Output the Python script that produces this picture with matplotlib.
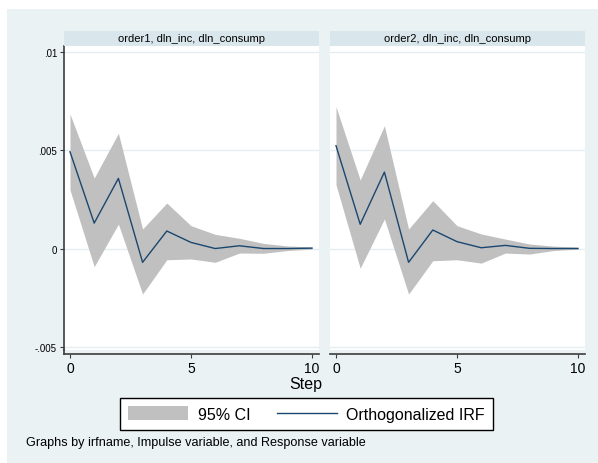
import matplotlib
matplotlib.use("Agg")
import matplotlib.pyplot as plt
from matplotlib.patches import Rectangle, Patch
from matplotlib.lines import Line2D

plt.rcParams['font.family'] = ['Liberation Sans', 'DejaVu Sans']

steps = [0, 1, 2, 3, 4, 5, 6, 7, 8, 9, 10]
panel_titles = ["order1, dln_inc, dln_consump", "order2, dln_inc, dln_consump"]

irf_order1 = [0.00491, 0.00129, 0.00356, -0.00070, 0.00089, 0.00031, 0.00000, 0.00014, 0.00000, 0.00000, 0.00002]
upper_order1 = [0.00683, 0.00358, 0.00585, 0.00099, 0.00231, 0.00116, 0.00072, 0.00052, 0.00026, 0.00013, 0.00008]
lower_order1 = [0.00298, -0.00092, 0.00124, -0.00231, -0.00057, -0.00053, -0.00070, -0.00023, -0.00024, -0.00010, -0.00003]

irf_order2 = [0.00522, 0.00123, 0.00388, -0.00070, 0.00094, 0.00035, 0.00004, 0.00016, 0.00001, 0.00000, 0.00000]
upper_order2 = [0.00720, 0.00348, 0.00623, 0.00099, 0.00243, 0.00116, 0.00074, 0.00048, 0.00023, 0.00012, 0.00008]
lower_order2 = [0.00324, -0.00100, 0.00150, -0.00231, -0.00062, -0.00057, -0.00074, -0.00023, -0.00028, -0.00010, -0.00003]

y_ticks = [-0.005, 0, 0.005, 0.01]
y_ticklabels = ["-.005", "0", ".005", ".01"]
x_ticks = [0, 5, 10]
x_ticklabels = ["0", "5", "10"]

W, H = 598, 464
BG = "#EAF2F3"
STRIP = "#D9E6EB"
GRID = "#E4EDF0"
BAND = "#C0C0C0"
NAVY = "#1A476F"
AXC = "#3C3C3C"

fig = plt.figure(figsize=(W / 100, H / 100), dpi=100, facecolor="white")
fig.patches.append(Rectangle((7 / W, 0), 1 - 7 / W, 1 - 10 / H, transform=fig.transFigure,
                             facecolor=BG, edgecolor="none", zorder=-10))

def fy(y):
    return 1 - y / H

panels = [
    (64, panel_titles[0], irf_order1, lower_order1, upper_order1, True),
    (330, panel_titles[1], irf_order2, lower_order2, upper_order2, False),
]
pw, top, bot = 255, 47, 351
for x0, title, irf, lo, up, first in panels:
    ax = fig.add_axes([x0 / W, fy(bot), pw / W, (bot - top) / H])
    ax.set_facecolor("white")
    ax.fill_between(steps, lo, up, color=BAND, linewidth=0, zorder=2)
    ax.plot(steps, irf, color=NAVY, linewidth=1.0, zorder=3)
    ax.set_xlim(-0.248, 10.29)
    ax.set_ylim(-0.00515, 0.01028)
    for yt in y_ticks:
        ax.axhline(yt, color=GRID, linewidth=1.0, zorder=1)
    ax.set_xticks(x_ticks)
    ax.set_xticklabels(x_ticklabels, fontsize=7)
    for s in ["top", "right"]:
        ax.spines[s].set_visible(False)
    ax.spines["bottom"].set_position(("outward", 2.9))
    ax.spines["bottom"].set_color(AXC)
    ax.spines["bottom"].set_linewidth(1.2)
    ax.tick_params(axis="x", length=3, width=0.8, color=AXC, pad=2)
    if first:
        ax.set_yticks(y_ticks)
        ax.set_yticklabels(y_ticklabels, fontsize=7)
        ax.spines["left"].set_color(AXC)
        ax.spines["left"].set_linewidth(1.2)
        ax.tick_params(axis="y", length=3, width=0.8, color=AXC, pad=2)
        fig.add_artist(Line2D([x0 / W, x0 / W], [fy(bot), fy(355)], color=AXC, linewidth=1.2,
                              transform=fig.transFigure))
    else:
        ax.set_yticks([])
        ax.spines["left"].set_visible(False)
    fig.patches.append(Rectangle((x0 / W, fy(top)), pw / W, 15 / H, transform=fig.transFigure,
                                 facecolor=STRIP, edgecolor="none", zorder=1))
    fig.text((x0 + pw / 2) / W, fy(39.5), title, ha="center", va="center", fontsize=8.0)

fig.text(306 / W, fy(385), "Step", ha="center", va="center", fontsize=11.5)

handles = [Patch(facecolor=BAND, edgecolor="none", label="95% CI"),
           Line2D([], [], color=NAVY, linewidth=1.0, label="Orthogonalized IRF")]
leg = fig.legend(handles=handles, loc="center", bbox_to_anchor=(306.5 / W, fy(415)), ncol=2,
                 fontsize=11.5, frameon=True, fancybox=False, handlelength=3.75,
                 handleheight=0.95, handletextpad=0.6, columnspacing=1.65, borderpad=0.5,
                 borderaxespad=0)
leg.get_frame().set_edgecolor("black")
leg.get_frame().set_linewidth(1.0)
leg.get_frame().set_facecolor("white")
leg.get_frame().set_alpha(1)

fig.text(26 / W, fy(443), "Graphs by irfname, Impulse variable, and Response variable",
         ha="left", va="center", fontsize=9.1)

fig.savefig("out.png", dpi=100, facecolor="white")
